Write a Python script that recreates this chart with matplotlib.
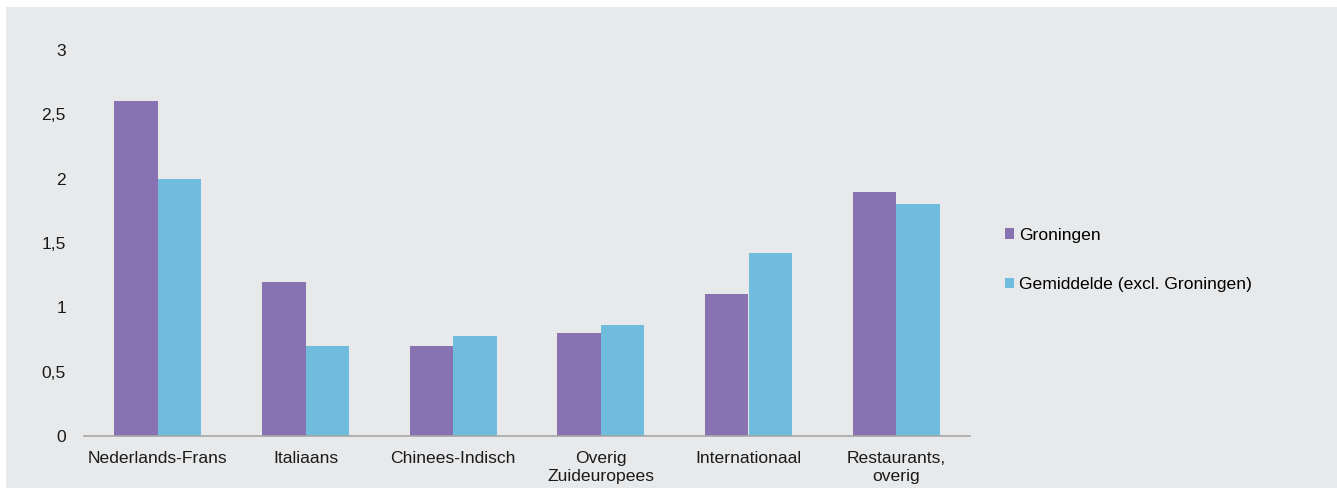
import matplotlib.pyplot as plt
import matplotlib.patches as patches
import numpy as np

plt.rcParams['font.family'] = ['Liberation Sans', 'DejaVu Sans']

categories = ['Nederlands-Frans', 'Italiaans', 'Chinees-Indisch',
              'Overig\nZuideuropees', 'Internationaal', 'Restaurants,\noverig']
groningen = [2.6, 1.2, 0.7, 0.8, 1.1, 1.9]
gemiddelde = [2.0, 0.7, 0.78, 0.86, 1.42, 1.8]
y_ticks = [0, 0.5, 1, 1.5, 2, 2.5, 3]
y_labels = ['0', '0,5', '1', '1,5', '2', '2,5', '3']

bg = '#e8e9eb'
purple = '#8872b1'
blue = '#6fbcdc'
fs = 12.6

fig = plt.figure(figsize=(13.37, 4.88), dpi=100)
fig.patch.set_facecolor('white')
# grey panel with thin white strip on top and left
fig.add_artist(patches.Rectangle((6 / 1337, 0), 1, 1 - 7 / 488,
                                 transform=fig.transFigure,
                                 facecolor=bg, edgecolor='none', zorder=-1))

ax = fig.add_axes([84 / 1337, 52 / 488, (970 - 84) / 1337, (436 - 50) / 488])
ax.set_facecolor(bg)

x = np.arange(len(categories))
w = 0.295
ax.bar(x - w / 2, groningen, w, color=purple, label='Groningen')
ax.bar(x + w / 2, gemiddelde, w, color=blue, label='Gemiddelde (excl. Groningen)')

ax.set_xlim(-0.5, len(categories) - 0.5)
ax.set_ylim(0, 3)
ax.set_yticks(y_ticks)
ax.set_yticklabels(y_labels)
ax.set_xticks(x)
ax.set_xticklabels(categories, linespacing=1.25)
ax.tick_params(axis='both', length=0, labelsize=fs, labelcolor='#1a1a1a')
ax.tick_params(axis='y', pad=13)
ax.tick_params(axis='x', pad=11)

for side in ['left', 'right', 'top']:
    ax.spines[side].set_visible(False)
ax.spines['bottom'].set_color('#a6a6a6')
ax.spines['bottom'].set_linewidth(1.2)

ax.legend(loc='center left', bbox_to_anchor=(1.039, 0.456), frameon=False,
          borderaxespad=0, borderpad=0,
          fontsize=fs, handlelength=0.55, handleheight=0.55, handletextpad=0.3,
          labelspacing=1.95)

fig.savefig('out.png', dpi=100, facecolor=fig.get_facecolor())
